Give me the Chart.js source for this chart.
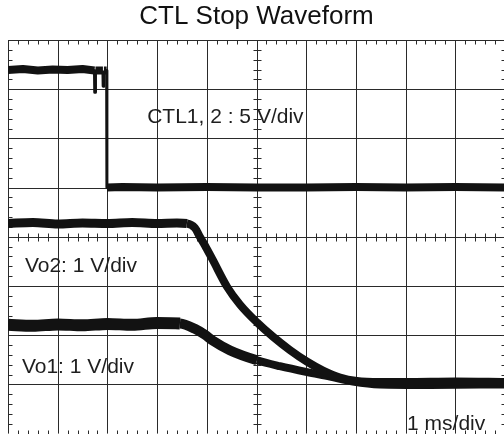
<!DOCTYPE html>
<html>
<head>
<meta charset="utf-8">
<script src="https://cdn.jsdelivr.net/npm/chart.js@4.4.1/dist/chart.umd.min.js"></script>
<style>
  html, body { margin: 0; padding: 0; background: #fff; overflow: hidden; }
  canvas { display: block; }
</style>
</head>
<body>
<canvas class="js-scope" width="512" height="440"></canvas>
<script>
// time in ms (1 ms/div), levels in screen divisions (0 = centre line)
const ctlTime = [0, 0.3, 0.6, 0.9, 1.2, 1.5, 1.74, 1.745, 1.755, 1.76, 1.91, 1.915, 1.925, 1.93, 1.985, 1.99, 2.3, 3, 4, 5, 6, 7, 8, 9, 10];
const ctlLevel = [3.39, 3.41, 3.38, 3.40, 3.39, 3.41, 3.38, 2.94, 2.94, 3.38, 3.38, 3.06, 3.06, 3.38, 3.38, 1.0, 1.01, 1.0, 1.01, 1.0, 1.0, 1.01, 1.0, 1.01, 1.0];

const vo2Time = [0, 0.5, 1.0, 1.5, 2.0, 2.5, 3.0, 3.4, 3.6, 3.76, 3.86, 3.96, 4.12, 4.41, 4.67, 5.01, 5.33, 5.67, 6.02, 6.34, 6.68, 7.02, 7.48, 8.0, 9.0, 10];
const vo2Level = [0.27, 0.29, 0.26, 0.28, 0.27, 0.29, 0.27, 0.28, 0.27, 0.18, 0.0, -0.17, -0.47, -1.02, -1.38, -1.74, -2.03, -2.30, -2.54, -2.72, -2.86, -2.93, -2.95, -2.95, -2.94, -2.95];

const vo1Time = [0, 0.5, 1.0, 1.5, 2.0, 2.5, 3.0, 3.46, 3.76, 3.96, 4.12, 4.47, 5.01, 5.47, 6.02, 6.48, 6.94, 7.48, 8.5, 10];
const vo1Level = [-1.79, -1.81, -1.78, -1.80, -1.77, -1.79, -1.75, -1.76, -1.87, -1.99, -2.11, -2.31, -2.51, -2.63, -2.75, -2.84, -2.94, -3.0, -3.01, -3.0];

const labelTexts = ["CTL1, 2 : 5 V/div", "Vo2: 1 V/div", "Vo1: 1 V/div", "1 ms/div"];
const labelX = [2.8, 0.34, 0.28, 8.03];
const labelY = [2.31, -0.72, -2.77, -3.93];

const traceColor = "#121212";
const gridColor = "#2a2a2a";
const fontFamily = "'Liberation Sans', Arial, sans-serif";

const toPoints = function (xs, ys) {
  return xs.map((x, i) => ({ x: x, y: ys[i] }));
};

// scope graticule: major lines, minor ticks on border and centre cross
const scopeGrid = {
  id: "scopeGrid",
  beforeDatasetsDraw(chart) {
    const { ctx, chartArea } = chart;
    const sx = chart.scales.x;
    const sy = chart.scales.y;
    const px = (v) => Math.round(sx.getPixelForValue(v)) + 0.5;
    const py = (v) => Math.round(sy.getPixelForValue(v)) + 0.5;
    ctx.save();
    ctx.strokeStyle = gridColor;
    ctx.lineWidth = 1;
    ctx.beginPath();
    for (let i = 0; i <= 10; i++) {
      ctx.moveTo(px(i), chartArea.top);
      ctx.lineTo(px(i), chartArea.bottom);
    }
    for (let j = -4; j <= 4; j++) {
      ctx.moveTo(chartArea.left, py(j));
      ctx.lineTo(chartArea.right, py(j));
    }
    for (let k = 1; k < 50; k++) {
      if (k % 5 === 0) continue;
      const v = k / 5;
      const x = px(v);
      ctx.moveTo(x, py(4)); ctx.lineTo(x, py(4) + 4);
      ctx.moveTo(x, py(-4)); ctx.lineTo(x, py(-4) - 4);
      ctx.moveTo(x, py(0) - 4); ctx.lineTo(x, py(0) + 4);
    }
    for (let k = 1; k < 40; k++) {
      if (k % 5 === 0) continue;
      const v = -4 + k / 5;
      const y = py(v);
      ctx.moveTo(px(0), y); ctx.lineTo(px(0) + 4, y);
      ctx.moveTo(px(10), y); ctx.lineTo(px(10) - 4, y);
      ctx.moveTo(px(5) - 4, y); ctx.lineTo(px(5) + 4, y);
    }
    ctx.stroke();
    ctx.restore();
  },
  afterDatasetsDraw(chart) {
    const { ctx } = chart;
    ctx.save();
    ctx.fillStyle = "#1e1e1e";
    ctx.font = "21px " + fontFamily;
    ctx.textAlign = "left";
    ctx.textBaseline = "alphabetic";
    labelTexts.forEach((t, i) => {
      ctx.fillText(t, chart.scales.x.getPixelForValue(labelX[i]), chart.scales.y.getPixelForValue(labelY[i]));
    });
    ctx.restore();
  },
};

const chartscope = function () {
  const canvas = document.querySelector(".js-scope");
  new Chart(canvas, {
    type: "line",
    data: {
      datasets: [
        {
          label: "CTL",
          data: toPoints(ctlTime, ctlLevel),
          borderColor: traceColor,
          borderWidth: 8,
          tension: 0,
          segment: {
            borderWidth: (c) => (Math.abs(c.p1.parsed.x - c.p0.parsed.x) < 0.02 ? 3 : 8),
          },
        },
        {
          label: "Vo2",
          data: toPoints(vo2Time, vo2Level),
          borderColor: traceColor,
          borderWidth: 8,
          cubicInterpolationMode: "monotone",
          segment: {
            borderWidth: (c) => (c.p0.parsed.x < 3.6 ? 9 : 8),
          },
        },
        {
          label: "Vo1",
          data: toPoints(vo1Time, vo1Level),
          borderColor: traceColor,
          borderWidth: 8,
          cubicInterpolationMode: "monotone",
          segment: {
            borderWidth: (c) => (c.p0.parsed.x < 3.4 ? 12 : (c.p0.parsed.x < 4.5 ? 10 : 8)),
          },
        },
      ],
    },
    options: {
      responsive: false,
      animation: false,
      elements: {
        point: { radius: 0 },
        line: { borderCapStyle: "butt", borderJoinStyle: "round" },
      },
      layout: {
        padding: { left: 8, right: 7, top: 0, bottom: 6.4 },
      },
      scales: {
        x: { type: "linear", min: 0, max: 10, display: false },
        y: { type: "linear", min: -4, max: 4, display: false },
      },
      plugins: {
        legend: { display: false },
        tooltip: { enabled: false },
        title: {
          display: true,
          text: "CTL Stop Waveform",
          color: "#111",
          font: { family: fontFamily, size: 26, weight: "normal", lineHeight: 1.2 },
          padding: { top: 1.4, bottom: 7.4 },
        },
      },
    },
    plugins: [scopeGrid],
  });
};

const init = function () {
  chartscope();
};

document.addEventListener("DOMContentLoaded", init);
</script>
</body>
</html>
